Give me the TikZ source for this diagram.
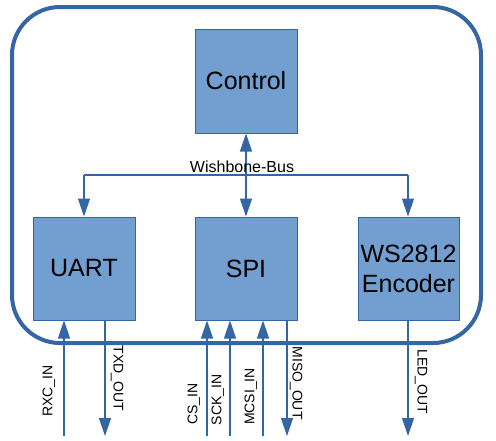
\documentclass[tikz,border=0pt]{standalone}
\usepackage{fontspec}
\setmainfont{Liberation Sans}
\usetikzlibrary{arrows.meta}
\definecolor{boxfill}{HTML}{729FCF}
\definecolor{boxline}{HTML}{3465A4}
\tikzset{
  block/.style={draw=boxline, line width=1pt, fill=boxfill, minimum width=102pt, minimum height=104pt, inner sep=0pt, align=center, font=\fontsize{25}{30}\selectfont},
  conn/.style={draw=boxline, line width=1.3pt},
  arr/.style={conn, -{Triangle[length=18pt,width=12pt]}},
  birr/.style={conn, {Triangle[length=18pt,width=12pt]}-{Triangle[length=18pt,width=12pt]}},
  sig/.style={font=\fontsize{14}{16}\selectfont, inner sep=0pt},
}
\begin{document}
\begin{tikzpicture}[x=1pt,y=-1pt]
\useasboundingbox (0,0) rectangle (496,440);
\draw[boxline, line width=4pt, rounded corners=48pt] (12,7) rectangle (481,343);
\node[block] (control) at (246,81) {Control};
\node[block, minimum height=103pt] (uart) at (84,268.5) {UART};
\node[block, minimum height=103pt] (spi) at (246,268.5) {SPI};
\node[block, minimum width=101pt, minimum height=103pt] (ws) at (408.5,268.5) {WS2812\\Encoder};
% bus
\coordinate (busL) at (84,175);
\coordinate (busR) at (408,175);
\draw[conn] (busL) -- (busR);
\draw[birr] (control.south) -- (spi.north);
\draw[arr] (busL) -- (uart.north -| busL);
\draw[arr] (busR) -- (ws.north -| busR);
\node[font=\fontsize{16}{18}\selectfont, anchor=base, inner sep=0pt] (wb) at (242,172) {Wishbone-Bus};
% bottom signals
\coordinate (rxc) at (64,436);
\coordinate (txd) at (105,436);
\coordinate (cs) at (207,436);
\coordinate (sck) at (230,436);
\coordinate (mcsi) at (263,436);
\coordinate (miso) at (287,436);
\coordinate (led) at (408,436);
\draw[arr] (rxc) -- (rxc |- uart.south);
\draw[arr] (txd |- uart.south) -- (txd);
\draw[arr] (cs) -- (cs |- spi.south);
\draw[arr] (sck) -- (sck |- spi.south);
\draw[arr] (mcsi) -- (mcsi |- spi.south);
\draw[arr] (miso |- spi.south) -- (miso);
\draw[arr] (led |- ws.south) -- (led);
\node[sig, rotate=90] (lrxc) at (49,391) {RXC\_IN};
\node[sig, rotate=-90] (ltxd) at (117,378.5) {TXD\_OUT};
\node[sig, rotate=90] (lcs) at (194,404) {CS\_IN};
\node[sig, rotate=90] (lsck) at (218,400) {SCK\_IN};
\node[sig, rotate=90] (lmcsi) at (251,396.5) {MCSI\_IN};
\node[sig, rotate=-90] (lmiso) at (296,383) {MISO\_OUT};
\node[sig, rotate=-90] (lled) at (421,381.5) {LED\_OUT};
\end{tikzpicture}
\end{document}
